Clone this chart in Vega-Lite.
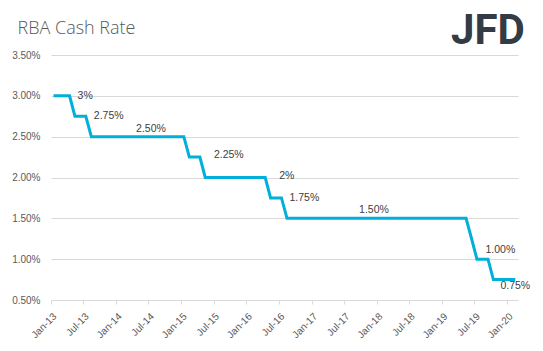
{
  "$schema": "https://vega.github.io/schema/vega-lite/v6.json",
  "autosize": {"type": "none"},
  "padding": {"left": 51, "top": 55, "right": 25, "bottom": 51},
  "width": 467,
  "height": 245,
  "background": "white",
  "config": {"view": {"stroke": null}},
  "resolve": {"axis": {"x": "independent", "y": "independent"}},
  "layer": [
    {
      "data": {
        "values": [
          {"d": "2013-01-15", "r": 3.00},
          {"d": "2013-02-15", "r": 3.00},
          {"d": "2013-03-15", "r": 3.00},
          {"d": "2013-04-15", "r": 3.00, "label": "3%"},
          {"d": "2013-05-15", "r": 2.75},
          {"d": "2013-06-15", "r": 2.75},
          {"d": "2013-07-15", "r": 2.75, "label": "2.75%"},
          {"d": "2013-08-15", "r": 2.50},
          {"d": "2013-09-15", "r": 2.50},
          {"d": "2013-10-15", "r": 2.50},
          {"d": "2013-11-15", "r": 2.50},
          {"d": "2013-12-15", "r": 2.50},
          {"d": "2014-01-15", "r": 2.50},
          {"d": "2014-02-15", "r": 2.50},
          {"d": "2014-03-15", "r": 2.50},
          {"d": "2014-04-15", "r": 2.50},
          {"d": "2014-05-15", "r": 2.50},
          {"d": "2014-06-15", "r": 2.50},
          {"d": "2014-07-15", "r": 2.50, "label": "2.50%"},
          {"d": "2014-08-15", "r": 2.50},
          {"d": "2014-09-15", "r": 2.50},
          {"d": "2014-10-15", "r": 2.50},
          {"d": "2014-11-15", "r": 2.50},
          {"d": "2014-12-15", "r": 2.50},
          {"d": "2015-01-15", "r": 2.50},
          {"d": "2015-02-15", "r": 2.25},
          {"d": "2015-03-15", "r": 2.25},
          {"d": "2015-04-15", "r": 2.25, "label": "2.25%"},
          {"d": "2015-05-15", "r": 2.00},
          {"d": "2015-06-15", "r": 2.00},
          {"d": "2015-07-15", "r": 2.00},
          {"d": "2015-08-15", "r": 2.00},
          {"d": "2015-09-15", "r": 2.00},
          {"d": "2015-10-15", "r": 2.00},
          {"d": "2015-11-15", "r": 2.00},
          {"d": "2015-12-15", "r": 2.00},
          {"d": "2016-01-15", "r": 2.00},
          {"d": "2016-02-15", "r": 2.00},
          {"d": "2016-03-15", "r": 2.00},
          {"d": "2016-04-15", "r": 2.00, "label": "2%"},
          {"d": "2016-05-15", "r": 1.75},
          {"d": "2016-06-15", "r": 1.75},
          {"d": "2016-07-15", "r": 1.75, "label": "1.75%"},
          {"d": "2016-08-15", "r": 1.50},
          {"d": "2016-09-15", "r": 1.50},
          {"d": "2016-10-15", "r": 1.50},
          {"d": "2016-11-15", "r": 1.50},
          {"d": "2016-12-15", "r": 1.50},
          {"d": "2017-01-15", "r": 1.50},
          {"d": "2017-02-15", "r": 1.50},
          {"d": "2017-03-15", "r": 1.50},
          {"d": "2017-04-15", "r": 1.50},
          {"d": "2017-05-15", "r": 1.50},
          {"d": "2017-06-15", "r": 1.50},
          {"d": "2017-07-15", "r": 1.50},
          {"d": "2017-08-15", "r": 1.50},
          {"d": "2017-09-15", "r": 1.50},
          {"d": "2017-10-15", "r": 1.50},
          {"d": "2017-11-15", "r": 1.50},
          {"d": "2017-12-15", "r": 1.50, "label": "1.50%"},
          {"d": "2018-01-15", "r": 1.50},
          {"d": "2018-02-15", "r": 1.50},
          {"d": "2018-03-15", "r": 1.50},
          {"d": "2018-04-15", "r": 1.50},
          {"d": "2018-05-15", "r": 1.50},
          {"d": "2018-06-15", "r": 1.50},
          {"d": "2018-07-15", "r": 1.50},
          {"d": "2018-08-15", "r": 1.50},
          {"d": "2018-09-15", "r": 1.50},
          {"d": "2018-10-15", "r": 1.50},
          {"d": "2018-11-15", "r": 1.50},
          {"d": "2018-12-15", "r": 1.50},
          {"d": "2019-01-15", "r": 1.50},
          {"d": "2019-02-15", "r": 1.50},
          {"d": "2019-03-15", "r": 1.50},
          {"d": "2019-04-15", "r": 1.50},
          {"d": "2019-05-15", "r": 1.50},
          {"d": "2019-06-15", "r": 1.25},
          {"d": "2019-07-15", "r": 1.00},
          {"d": "2019-08-15", "r": 1.00, "label": "1.00%"},
          {"d": "2019-09-15", "r": 1.00},
          {"d": "2019-10-15", "r": 0.75},
          {"d": "2019-11-15", "r": 0.75},
          {"d": "2019-12-15", "r": 0.75},
          {"d": "2020-01-15", "r": 0.75},
          {"d": "2020-02-15", "r": 0.75, "label": "0.75%"}
        ]
      },
      "encoding": {
        "x": {
          "field": "d",
          "type": "temporal",
          "scale": {"type": "utc", "domain": [{"year": 2013, "month": 1, "date": 1, "utc": true}, {"year": 2020, "month": 3, "date": 1, "utc": true}]},
          "axis": {
            "title": null,
            "format": "%b-%y",
            "values": [
              {"year": 2013, "month": 1, "date": 1, "utc": true},
              {"year": 2013, "month": 7, "date": 1, "utc": true},
              {"year": 2014, "month": 1, "date": 1, "utc": true},
              {"year": 2014, "month": 7, "date": 1, "utc": true},
              {"year": 2015, "month": 1, "date": 1, "utc": true},
              {"year": 2015, "month": 7, "date": 1, "utc": true},
              {"year": 2016, "month": 1, "date": 1, "utc": true},
              {"year": 2016, "month": 7, "date": 1, "utc": true},
              {"year": 2017, "month": 1, "date": 1, "utc": true},
              {"year": 2017, "month": 7, "date": 1, "utc": true},
              {"year": 2018, "month": 1, "date": 1, "utc": true},
              {"year": 2018, "month": 7, "date": 1, "utc": true},
              {"year": 2019, "month": 1, "date": 1, "utc": true},
              {"year": 2019, "month": 7, "date": 1, "utc": true},
              {"year": 2020, "month": 1, "date": 1, "utc": true}
            ],
            "grid": false,
            "domainColor": "#d9d9d9",
            "tickColor": "#d9d9d9",
            "tickSize": 4,
            "labelAngle": -45,
            "labelFont": "Liberation Sans",
            "labelFontSize": 10,
            "labelColor": "#595959",
            "labelPadding": 7
          }
        },
        "y": {
          "field": "r",
          "type": "quantitative",
          "scale": {"domain": [0.5, 3.5], "nice": false, "zero": false},
          "axis": {
            "title": "RBA Cash Rate",
            "titleAngle": 0,
            "titleAlign": "left",
            "titleBaseline": "alphabetic",
            "titleX": -34,
            "titleY": -22,
            "titleFont": "Open Sans",
            "titleFontSize": 18,
            "titleFontWeight": 300,
            "titleColor": "#595959",
            "values": [0.5, 1, 1.5, 2, 2.5, 3, 3.5],
            "labelExpr": "format(datum.value, '.2f') + '%'",
            "domain": false,
            "ticks": false,
            "gridColor": "#d9d9d9",
            "labelFont": "Liberation Sans",
            "labelFontSize": 10,
            "labelColor": "#595959",
            "labelPadding": 11
          }
        }
      },
      "layer": [
        {
          "mark": {"type": "line", "color": "#00B0DA", "strokeWidth": 3}
        },
        {
          "transform": [{"filter": {"field": "label", "oneOf": ["3%", "2.75%", "1.75%"]}}],
          "mark": {"type": "text", "align": "left", "baseline": "middle", "dx": 8, "font": "Liberation Sans", "fontSize": 10.5, "color": "#404040"},
          "encoding": {"text": {"field": "label"}}
        },
        {
          "transform": [{"filter": {"field": "label", "oneOf": ["2.25%", "2%"]}}],
          "mark": {"type": "text", "align": "left", "baseline": "middle", "dx": 14, "dy": -2, "font": "Liberation Sans", "fontSize": 10.5, "color": "#404040"},
          "encoding": {"text": {"field": "label"}}
        },
        {
          "transform": [{"filter": {"field": "label", "oneOf": ["2.50%", "1.50%"]}}],
          "mark": {"type": "text", "align": "center", "baseline": "middle", "dy": -8, "font": "Liberation Sans", "fontSize": 10.5, "color": "#404040"},
          "encoding": {"text": {"field": "label"}}
        },
        {
          "transform": [{"filter": {"field": "label", "equal": "1.00%"}}],
          "mark": {"type": "text", "align": "left", "baseline": "middle", "dx": 3, "dy": -9, "font": "Liberation Sans", "fontSize": 10.5, "color": "#404040"},
          "encoding": {"text": {"field": "label"}}
        },
        {
          "transform": [{"filter": {"field": "label", "equal": "0.75%"}}],
          "mark": {"type": "text", "align": "center", "baseline": "middle", "dy": 6, "font": "Liberation Sans", "fontSize": 10.5, "color": "#404040"},
          "encoding": {"text": {"field": "label"}}
        }
      ]
    },
    {
      "data": {"values": [{"logo": "JFD"}]},
      "mark": {"type": "text", "clip": false, "align": "center", "baseline": "alphabetic", "font": "Roboto", "fontWeight": "bold", "fontSize": 42, "color": "#333b45"},
      "encoding": {
        "x": {"datum": {"year": 2019, "month": 9, "date": 15, "utc": true}, "type": "temporal", "axis": null, "scale": {"type": "utc", "domain": [{"year": 2013, "month": 1, "date": 1, "utc": true}, {"year": 2020, "month": 3, "date": 1, "utc": true}]}},
        "y": {"datum": 3.635, "type": "quantitative", "axis": null, "scale": {"domain": [0.5, 3.5], "nice": false, "zero": false}},
        "text": {"field": "logo"}
      }
    }
  ]
}
